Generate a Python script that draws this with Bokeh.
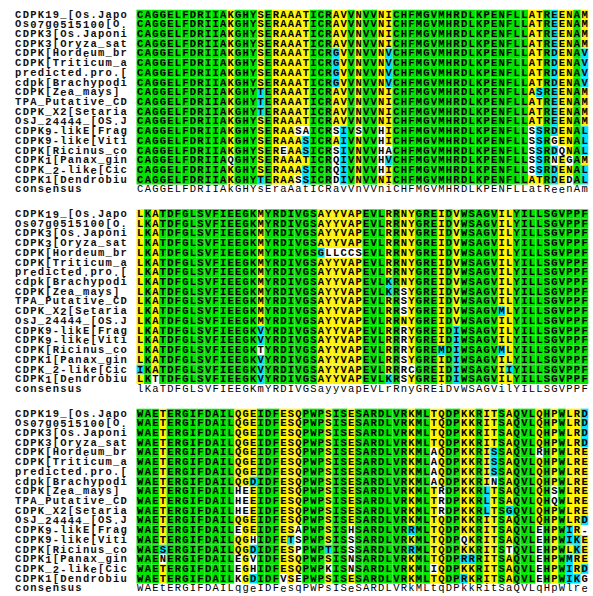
from collections import Counter
from bokeh.plotting import figure
from bokeh.models import Range1d, ColumnDataSource
from bokeh.core.properties import value
from bokeh.embed import file_html
from bokeh.resources import INLINE

# ---------------- data ----------------
names = [
    "CDPK19_[Os.Japo", "Os07g0515100[O.", "CDPK3[Os.Japoni", "CDPK3[Oryza_sat",
    "CDPK[Hordeum_br", "CDPK[Triticum_a", "predicted.pro.[", "cdpk[Brachypodi",
    "CDPK[Zea_mays]", "TPA_Putative_CD", "CDPK_X2[Setaria", "OsJ_24444_[OS.J",
    "CDPK9-likE[Frag", "CDPK9-like[Viti", "CDPK[Ricinus_co", "CDPK1[Panax_gin",
    "CDPK_2-like[Cic", "CDPK1[Dendrobiu",
]
consensus_label = "consensus"

block1 = [
    "CAGGELFDRIIAKGHYSERAAATICRAVVNVVNICHFMGVMHRDLKPENFLLATREENAM",
    "CAGGELFDRIIAKGHYSERAAATICRAVVNVVNICHFMGVMHRDLKPENFLLATREENAM",
    "CAGGELFDRIIAKGHYSERAAATICRAVVNVVNICHFMGVMHRDLKPENFLLATREENAM",
    "CAGGELFDRIIAKGHYSERAAATICRAVVNVVNICHFMGVMHRDLKPENFLLATREENAM",
    "CAGGELFDRIIAKGHYSERAAATICRGVVNVVNVCHFMGVMHRDLKPENFLLATRDENAV",
    "CAGGELFDRIIAKGHYSERAAATICRGVVNVVNVCHFMGVMHRDLKPENFLLATRDENAV",
    "CAGGELFDRIIAKGHYSERAAATICRGVVNVVNVCHFMGVMHRDLKPENFLLATRDENAV",
    "CAGGELFDRIIAKGHYSERAAATICRGVVNVVNVCHFMGVMHRDLKPENFLLATRDENAV",
    "CAGGELFDRIIAKGHYTERAAATICRAVVNVVNICHFMGVMHRDLKPENFLLASREENAM",
    "CAGGELFDRIIAKGHYTERAAATICRAVVNVVNICHFMGVMHRDLKPENFLLATREENAM",
    "CAGGELFDRIIAKGHYTERAAATICRAVVNVVNICHFMGVMHRDLKPENFLLATREENAM",
    "CAGGELFDRIIAKGHYSERAAATICRAVVNVVNICHFMGVMHRDLKPENFLLATREENAM",
    "CAGGELFDRIIAKGHYSERAASAICRSIVSVVHICHFMGVMHRDLKPENFLLSSRDENAL",
    "CAGGELFDRIIAKGHYSERAAASICRAIVNVVHICHFMGVMHRDLKPENFLLSSRGENAL",
    "CAGGELFDRIIAKGHYSEREAASICRSIVNVVHACHFMGVMHRDLKPENFLLSSRDQNAL",
    "CAGGELFDRIIAQGHYSERAAATICRQIVNVVHVCHFMGVMHRDLKPENFLLSSRNEGAM",
    "CAGGELFDRIIAKGHYSERAAASICRQIVNVVHICHFMGVMHRDLKPENFLLSSRDENAL",
    "CAGGELFDRIIAKGHYTERAASSICRDIVNVVNICHFMGVMHRDLKPENFLLATRDEDAL",
]
consensus1 = "CAGGELFDRIIAkGHYsEraAatICRavVnVVniCHFMGVMHRDLKPENFLLatReenAm"

block2 = [
    "LKATDFGLSVFIEEGKMYRDIVGSAYYVAPEVLRRNYGREIDVWSAGVILYILLSGVPPF",
    "LKATDFGLSVFIEEGKMYRDIVGSAYYVAPEVLRRNYGREIDVWSAGVILYILLSGVPPF",
    "LKATDFGLSVFIEEGKMYRDIVGSAYYVAPEVLRRNYGREIDVWSAGVILYILLSGVPPF",
    "LKATDFGLSVFIEEGKMYRDIVGSAYYVAPEVLRRNYGREIDVWSAGVILYILLSGVPPF",
    "LKATDFGLSVFIEEGKMYRDIVGSGLLCCSEVLRRNYGREIDVWSAGVILYILLSGVPPF",
    "LKATDFGLSVFIEEGKMYRDIVGSAYYVAPEVLRRNYGREIDVWSAGVILYILLSGVPPF",
    "LKATDFGLSVFIEEGKMYRDIVGSAYYVAPEVLRRNYGREIDVWSAGVILYILLSGVPPF",
    "LKATDFGLSVFIEEGKMYRDIVGSAYYVAPEVLKRNYGREIDVWSAGVILYILLSGVPPF",
    "LKATDFGLSVFIEEGKMYRDIVGSAYYVAPEVLKRSYGREIDVWSAGVILYILLSGVPPF",
    "LKATDFGLSVFIEEGKMYRDIVGSAYYVAPEVLRRSYGREIDVWSAGVILYILLSGVPPF",
    "LKATDFGLSVFIEEGKMYRDIVGSAYYVAPEVLRRSYGREIDVWSAGVMLYILLSGVPPF",
    "LKATDFGLSVFIEEGKMYRDIVGSAYYVAPEVLRRNYGREIDVWSAGVILYILLSGVPPF",
    "LKATDFGLSVFIEEGKVYRDIVGSAYYVAPEVLRRRYGREIDIWSAGVILYILLSGVPPF",
    "LKATDFGLSVFIEEGKVYRDIVGSAYYVAPEVLRRRYGREIDIWSAGVILYILLSGVPPF",
    "LKATDFGLSVFIEEGKTYRDIVGSAYYVAPEVLRRRYGREMDIWSAGVMLYILLSGVPPF",
    "LKATDFGLSVFIEEGKVYRDIVGSAYYVAPEVLRRSYGREIDIWSAGVILYILLSGVPPF",
    "IKATDFGLSVFIEEGKVYRDIVGSAYYVAPEVLRRRCGREIDIWSAGVIIYILLSGVPPF",
    "LKTTDFGLSVFIEEGKVYRDIVGSAYYVAPEVLKRSYGREIDIWSAGVILYILLSGVPPF",
]
consensus2 = "lKaTDFGLSVFIEEGKmYRDIVGSayyvapEVLrRnyGREiDvWSAGVilYILLSGVPPF"

block3 = [
    "WAETERGIFDAILQGEIDFESQPWPSISESARDLVRKMLTQDPKKRITSAQVLQHPWLRD",
    "WAETERGIFDAILQGEIDFESQPWPSISESARDLVRKMLTQDPKKRITSAQVLQHPWLRD",
    "WAETERGIFDAILQGEIDFESQPWPSISESARDLVRKMLTQDPKKRITSAQVLQHPWLRD",
    "WAETERGIFDAILQGEIDFESQPWPSISESARDLVRKMLTQDPKKRITSAQVLQHPWLRD",
    "WAETERGIFDAILQGEIDFESQPWPSISESARDLVRKMLAQDPKKRISSAQVLRHPWLRE",
    "WAETERGIFDAILQGEIDFESQPWPSISESARDLVRKMLAQDPKKRISSAQVLQHPWLRE",
    "WAETERGIFDAILQGEIDFESQPWPSISESARDLVRKMLAQDPKKRISSAQVLQHPWLRE",
    "WAETERGIFDAILQGDIDFESQPWPSISESARDLVRKMLAQDPKKRINSAQVLQHPWLRE",
    "WAETERGIFDAILHEEIDFESQPWPSISESARDLVRKMLTRDPKKRLTSAQVLQHSWLRE",
    "WAETERGIFDAILHEEIDFESQPWPSISESARDLVRKMLTRDPKKRLTSAQVLQHQWLRE",
    "WAETERGIFDAILHEEIDFESQPWPSISESARDLVRKMLTRDPKKRLTSGQVLQHPWLRE",
    "WAETERGIFDAILQGEIDFESQPWPSISESARDLVRKMLTQDPKKRITSAQVLQHPWLRD",
    "WAETERGIFDAILEGEIDFESAPWPSISHSARDLVRRMLTQDPKKRITSAQVLEHPWIR-",
    "WAETERGIFDAILQGHIDFETSPWPSISSSARDLVRKMLTQDPQKRITSAQVLEHPWIKE",
    "WAESERGIFDAILQGDIDFESPPWPTISSSARDLVRRMLTQDPKKRITSTQVLEHPWLKE",
    "WAENERGIFDAILEGVIDFESQPWPSISNSARDLVRKMLTQDPRRRITSAQVLEHPWMRE",
    "WAETERGIFDAILEGHIDFESQPWPKISNSARDLVRKMLIQDPKKRITSAQVLEHPWIRD",
    "WAETERGIFDAILKGDIDFVSEPWPSISESARDLVRKMLTQDPRKRITSAQVLEHPWIKG",
]
consensus3 = "WAEtERGIFDAILqgeIDFesqPWPsISeSARDLVRkMLtqDPkkRitSaQVLqHpWlre"

blocks = [block1, block2, block3]
consensus_rows = [consensus1, consensus2, consensus3]
# columns shaded as partly conserved although identical in every row
partly_conserved_cols = [[19, 21], [], []]
similar_groups = ["ILVM", "DE", "KR", "ST", "AG", "FYW"]

# ---------------- styling ----------------
GREEN = "#00e400"
YELLOW = "#fff200"
CYAN = "#00e0ff"
WHITE = "#ffffff"

W, H = 593, 596
NAME_X = 14.0
SEQ_X0 = 136.0
COL_W = 7.53
ROW_H = 9.72
FIRST_Y = 14.0
BLOCK_STEP = 199.5
MONO = value("Liberation Mono")

p = figure(width=W, height=H, x_range=Range1d(0, W), y_range=Range1d(H, 0),
           output_backend="svg", toolbar_location=None, min_border=0)
p.axis.visible = False
p.grid.visible = False
p.outline_line_color = None
p.background_fill_color = "white"


def shade(block, forced):
    n = len(block)
    ncol = len(block[0])
    out = [[WHITE] * ncol for _ in block]
    for c in range(ncol):
        col = [s[c] for s in block]
        cnt = Counter(ch for ch in col if ch.isalpha())
        mode, m = cnt.most_common(1)[0]
        grp = next((g for g in similar_groups if mode in g), mode)
        for r, ch in enumerate(col):
            if m == n and (c + 1) not in forced:
                out[r][c] = GREEN
            elif ch == mode:
                out[r][c] = YELLOW if m / n >= 0.5 else CYAN
            elif ch.isalpha() and ch in grp:
                out[r][c] = CYAN
            else:
                out[r][c] = WHITE
    return out


cx, cy, cc, ct = [], [], [], []
kx, ky, kt = [], [], []
nx, ny, nt = [], [], []


def add_label(label, y):
    for i, ch in enumerate(label):
        nx.append(NAME_X + (i + 0.5) * COL_W)
        ny.append(y)
        nt.append(ch)


for b, block in enumerate(blocks):
    y0 = FIRST_Y + b * BLOCK_STEP
    colors = shade(block, partly_conserved_cols[b])
    for r, seq in enumerate(block):
        y = y0 + r * ROW_H
        add_label(names[r], y)
        for c, ch in enumerate(seq):
            cx.append(SEQ_X0 + (c + 0.5) * COL_W)
            cy.append(y)
            cc.append(colors[r][c])
            ct.append(ch)
    y = y0 + len(block) * ROW_H
    add_label(consensus_label, y)
    for c, ch in enumerate(consensus_rows[b]):
        kx.append(SEQ_X0 + (c + 0.5) * COL_W); ky.append(y); kt.append(ch)

cells = ColumnDataSource(dict(x=cx, y=cy, color=cc, t=ct))
p.rect(x="x", y="y", width=COL_W, height=ROW_H, fill_color="color",
       line_color=None, source=cells)
p.text(x="x", y="y", text="t", source=cells, text_font=MONO,
       text_font_style="bold", text_font_size="10.5px",
       text_align="center", text_baseline="middle", text_color="black")

p.text(x="x", y="y", text="t", source=ColumnDataSource(dict(x=kx, y=ky, t=kt)),
       text_font=MONO, text_font_size="10.5px", text_align="center",
       text_baseline="middle", text_color="black")

p.text(x="x", y="y", text="t", source=ColumnDataSource(dict(x=nx, y=ny, t=nt)),
       text_font=MONO, text_font_style="bold", text_font_size="10.5px",
       text_align="center", text_baseline="middle", text_color="#111111")

open("out.html", "w").write(file_html(p, INLINE))
